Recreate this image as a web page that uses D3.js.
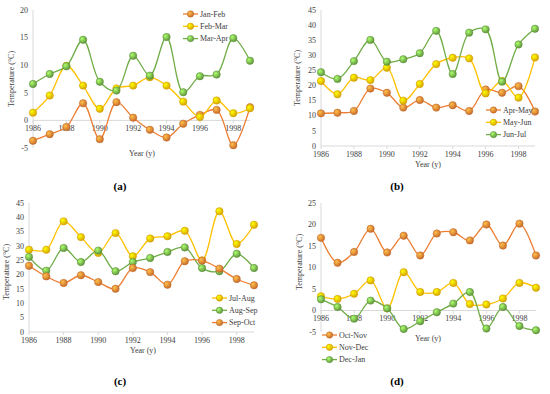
<!DOCTYPE html>
<html lang="en">
<head>
<meta charset="utf-8">
<script src="https://d3js.org/d3.v7.min.js"></script>
<style>
  body { margin: 0; background: #fff; }
  text { font-family: "Liberation Serif", "Times New Roman", serif; fill: #404040; }
  .tick-label { font-size: 8px; }
  .axis-title { font-size: 8px; }
  .legend-label { font-size: 8px; }
  .caption { font-size: 11px; font-weight: bold; fill: #000; }
</style>
</head>
<body>
<svg width="550" height="394"></svg>
<script>
// categories and tick labels
var years = [1986, 1987, 1988, 1989, 1990, 1991, 1992, 1993, 1994, 1995, 1996, 1997, 1998, 1999];
var yearTicks = [1986, 1988, 1990, 1992, 1994, 1996, 1998];

// (a)
var janFeb = [-3.7, -2.5, -1.2, 3.1, -3.4, 3.3, 0.5, -1.7, -3.1, -0.6, 1.0, 1.9, -4.5, 2.4];
var febMar = [1.4, 4.5, 9.9, 6.3, 2.1, 5.8, 6.3, 7.8, 6.3, 3.4, 0.6, 3.6, 1.3, 2.2];
var marApr = [6.6, 8.4, 9.8, 14.6, 7.0, 5.4, 11.7, 8.1, 15.1, 5.1, 8.0, 8.3, 14.9, 10.8];
// (b)
var aprMay = [10.8, 11.0, 11.6, 19.0, 17.6, 12.7, 15.2, 12.7, 13.5, 11.6, 18.7, 17.6, 19.8, 11.4];
var mayJun = [21.5, 17.1, 22.6, 21.8, 25.9, 15.0, 20.5, 27.1, 29.2, 29.0, 17.4, 21.5, 16.0, 29.3];
var junJul = [24.4, 22.2, 28.1, 35.1, 27.9, 28.7, 30.7, 38.1, 23.8, 37.5, 38.6, 21.3, 33.6, 38.8];
// (c)
var julAug = [28.7, 28.7, 38.6, 33.1, 27.6, 34.5, 26.4, 32.6, 33.4, 35.3, 25.0, 42.1, 30.7, 37.4];
var augSep = [26.2, 21.4, 29.3, 24.4, 28.4, 21.2, 24.4, 25.8, 27.9, 29.5, 22.3, 21.2, 27.3, 22.3];
var sepOct = [23.1, 19.4, 17.1, 19.8, 17.4, 15.1, 22.3, 20.9, 16.5, 24.7, 24.9, 22.1, 18.5, 16.3];
// (d)
var octNov = [16.9, 11.1, 13.6, 19.0, 13.5, 17.4, 12.8, 17.9, 18.2, 16.3, 20.0, 15.1, 20.2, 12.8];
var novDec = [3.3, 2.7, 3.9, 7.0, 0.5, 8.9, 4.3, 4.3, 6.4, 1.5, 1.4, 2.8, 6.4, 5.3];
var decJan = [2.6, 0.8, -1.9, 2.3, 0.5, -4.3, -2.5, -0.4, 1.6, 4.3, -4.2, 0.8, -3.6, -4.6];

var yTicksA = [-5, 0, 5, 10, 15, 20];
var yTicksB = [0, 5, 10, 15, 20, 25, 30, 35, 40, 45];
var yTicksD = [-5, 0, 5, 10, 15, 20, 25];

var orange = "#ED7D31", yellow = "#FFC000", green = "#70AD47";

var panels = [
  { cap: "(a)", left: 33, right: 250, top: 10, bottom: 148, dom: [-5, 20], ticks: yTicksA,
    ytx: 14, yty: 79, xtx: 142, xty: 156, capx: 120, capy: 190, lx: 183, ly: 14,
    series: [["Jan-Feb", janFeb, orange], ["Feb-Mar", febMar, yellow], ["Mar-Apr", marApr, green]] },
  { cap: "(b)", left: 321, right: 535, top: 10, bottom: 146, dom: [0, 45], ticks: yTicksB,
    ytx: 300, yty: 78, xtx: 428, xty: 167, capx: 397, capy: 190, lx: 486, ly: 110,
    series: [["Apr-May", aprMay, orange], ["May-Jun", mayJun, yellow], ["Jun-Jul", junJul, green]] },
  { cap: "(c)", left: 29, right: 254, top: 203, bottom: 332, dom: [0, 45], ticks: yTicksB,
    ytx: 9, yty: 272, xtx: 143, xty: 353, capx: 120, capy: 385, lx: 212, ly: 298,
    series: [["Jul-Aug", julAug, yellow], ["Aug-Sep", augSep, green], ["Sep-Oct", sepOct, orange]] },
  { cap: "(d)", left: 321, right: 536, top: 203, bottom: 332, dom: [-5, 25], ticks: yTicksD,
    ytx: 302, yty: 262, xtx: 428, xty: 341, capx: 397, capy: 385, lx: 322, ly: 335,
    series: [["Oct-Nov", octNov, orange], ["Nov-Dec", novDec, yellow], ["Dec-Jan", decJan, green]] }
];

var svg = d3.select("svg");

// gradient fills for the round markers
var defs = svg.append("defs");
[orange, yellow, green].forEach(function (c, i) {
  var gr = defs.append("radialGradient").attr("id", "g" + i)
    .attr("cx", "35%").attr("cy", "35%").attr("r", "70%");
  gr.append("stop").attr("offset", "0%").attr("stop-color", d3.color(c).brighter(1.2));
  gr.append("stop").attr("offset", "100%").attr("stop-color", d3.color(c).darker(0.5));
});
function grad(c) { return "url(#g" + [orange, yellow, green].indexOf(c) + ")"; }

panels.forEach(function (p) {
  var x = d3.scaleLinear().domain([years[0], years[years.length - 1]]).range([p.left, p.right]);
  var y = d3.scaleLinear().domain(p.dom).range([p.bottom, p.top]);
  var g = svg.append("g");

  // y axis
  g.append("line").attr("x1", p.left).attr("x2", p.left).attr("y1", p.top).attr("y2", p.bottom)
    .attr("stroke", "#d9d9d9");
  g.selectAll(".yl").data(p.ticks).enter().append("text")
    .attr("class", "tick-label").attr("text-anchor", "end")
    .attr("x", p.left - 5).attr("y", function (d) { return y(d) + 2.7; })
    .text(function (d) { return d; });

  // x axis at zero
  g.append("line").attr("x1", p.left).attr("x2", p.right).attr("y1", y(0)).attr("y2", y(0))
    .attr("stroke", "#d9d9d9");
  g.selectAll(".xt").data(yearTicks).enter().append("line")
    .attr("x1", function (d) { return x(d); }).attr("x2", function (d) { return x(d); })
    .attr("y1", y(0)).attr("y2", y(0) + 3).attr("stroke", "#d9d9d9");
  g.selectAll(".xl").data(yearTicks).enter().append("text")
    .attr("class", "tick-label").attr("text-anchor", "middle")
    .attr("x", function (d) { return x(d); }).attr("y", y(0) + 10.5)
    .text(function (d) { return d; });

  g.append("text").attr("class", "axis-title").attr("text-anchor", "middle")
    .attr("transform", "translate(" + p.ytx + "," + p.yty + ") rotate(-90)")
    .text("Temperature (°C)");
  g.append("text").attr("class", "axis-title").attr("text-anchor", "middle")
    .attr("x", p.xtx).attr("y", p.xty).text("Year (y)");
  g.append("text").attr("class", "caption").attr("text-anchor", "middle")
    .attr("x", p.capx).attr("y", p.capy).text(p.cap);

  var line = d3.line()
    .x(function (d, i) { return x(years[i]); })
    .y(function (d) { return y(d); })
    .curve(d3.curveCatmullRom.alpha(0.5));

  p.series.forEach(function (s) {
    g.append("path").datum(s[1]).attr("d", line)
      .attr("fill", "none").attr("stroke", s[2]).attr("stroke-width", 1.3);
    g.selectAll(null).data(s[1]).enter().append("circle")
      .attr("cx", function (d, i) { return x(years[i]); })
      .attr("cy", function (d) { return y(d); })
      .attr("r", 3.7).attr("fill", grad(s[2]))
      .attr("stroke", d3.color(s[2]).darker(0.6)).attr("stroke-width", 0.5);
  });

  // legend
  p.series.forEach(function (s, i) {
    var ly = p.ly + i * 12.3;
    g.append("line").attr("x1", p.lx).attr("x2", p.lx + 15).attr("y1", ly).attr("y2", ly)
      .attr("stroke", s[2]).attr("stroke-width", 1.3);
    g.append("circle").attr("cx", p.lx + 7.5).attr("cy", ly).attr("r", 3.2)
      .attr("fill", grad(s[2])).attr("stroke", d3.color(s[2]).darker(0.6)).attr("stroke-width", 0.5);
    g.append("text").attr("class", "legend-label").attr("x", p.lx + 17).attr("y", ly + 2.7).text(s[0]);
  });
});
</script>
</body>
</html>
